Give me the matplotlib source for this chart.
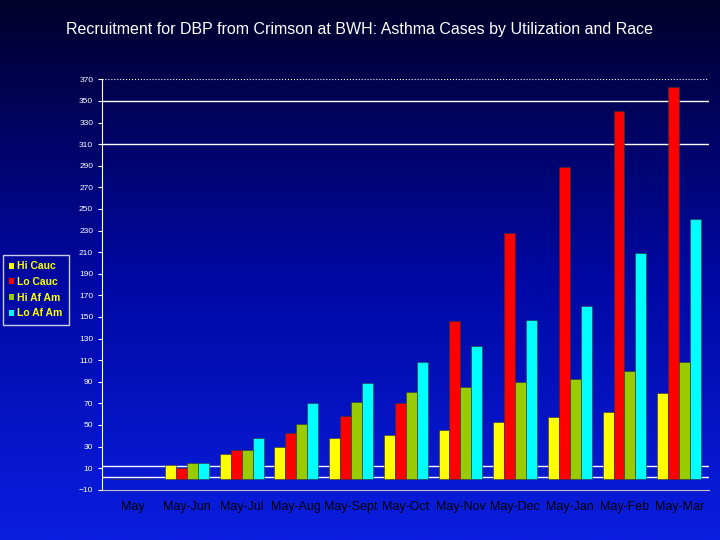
import matplotlib.pyplot as plt
import numpy as np
from matplotlib.patches import Patch
from matplotlib.colors import LinearSegmentedColormap

plt.rcParams.update({'font.family': 'Liberation Sans', 'font.size': 9})

categories = ['May', 'May-Jun', 'May-Jul', 'May-Aug', 'May-Sept', 'May-Oct',
              'May-Nov', 'May-Dec', 'May-Jan', 'May-Feb', 'May-Mar']
hi_cauc = [0, 13, 23, 30, 38, 41, 45, 53, 57, 62, 80]
lo_cauc = [0, 10, 27, 43, 58, 70, 146, 228, 289, 341, 363]
hi_afam = [0, 15, 27, 51, 71, 81, 85, 90, 93, 100, 108]
lo_afam = [0, 15, 38, 70, 89, 108, 123, 147, 160, 209, 241]
series = [('Hi Cauc', hi_cauc, '#ffff00'), ('Lo Cauc', lo_cauc, '#ff0000'),
          ('Hi Af Am', hi_afam, '#99cc00'), ('Lo Af Am', lo_afam, '#00ffff')]

fig = plt.figure(figsize=(7.2, 5.4), dpi=100)

# background gradient
bg = fig.add_axes([0, 0, 1, 1], zorder=-10)
grad = np.linspace(0, 1, 256).reshape(-1, 1)
cmap = LinearSegmentedColormap.from_list('bg', ['#00002a', '#0008a0', '#0a1ee0'])
bg.imshow(grad, aspect='auto', cmap=cmap, extent=[0, 1, 0, 1], origin='upper')
bg.axis('off')

ax = fig.add_axes([0.142, 0.093, 0.843, 0.76])
ax.patch.set_alpha(0)
x = np.arange(len(categories))
w = 0.2
for i, (name, vals, col) in enumerate(series):
    ax.bar(x + (i - 1.5) * w, vals, w, color=col, edgecolor='#333333', lw=0.4, zorder=3)

for yv in [350, 310, 12, 2]:
    ax.axhline(yv, color='white', lw=1, zorder=1)
ax.axhline(370, color='white', lw=0.8, ls=':', zorder=1)

ax.set_ylim(-10, 370)
ax.set_yticks(range(-10, 371, 20))
ax.set_xlim(-0.55, len(categories) - 0.45)
ax.set_xticks(x)
ax.set_xticklabels(categories, color='white', fontweight='bold', fontsize=8)
ax.tick_params(axis='y', colors='white', labelsize=6, length=3)
ax.tick_params(axis='x', length=0, pad=8)
for s in ['top', 'right']:
    ax.spines[s].set_visible(False)
ax.spines['left'].set_color('white')
ax.spines['bottom'].set_color('#c0c0c0')
ax.spines['bottom'].set_position(('data', -10))

fig.text(0.5, 0.945, 'Recruitment for DBP from Crimson at BWH: Asthma Cases by Utilization and Race',
         color='white', ha='center', va='center', fontsize=11.5)

handles = [Patch(facecolor=c, edgecolor='none', label=n) for n, _, c in series]
leg = fig.legend(handles=handles, loc='upper left', bbox_to_anchor=(0.008, 0.522),
                 frameon=True, fontsize=7.5, handlelength=0.5, handleheight=0.5,
                 handletextpad=0.3, labelspacing=0.55, borderpad=0.3, borderaxespad=0)
leg.get_frame().set_facecolor('none')
leg.get_frame().set_edgecolor('white')
leg.get_frame().set_boxstyle('square')
for t in leg.get_texts():
    t.set_color('#ffff00')
    t.set_fontweight('bold')

fig.savefig('out.png', dpi=100)
